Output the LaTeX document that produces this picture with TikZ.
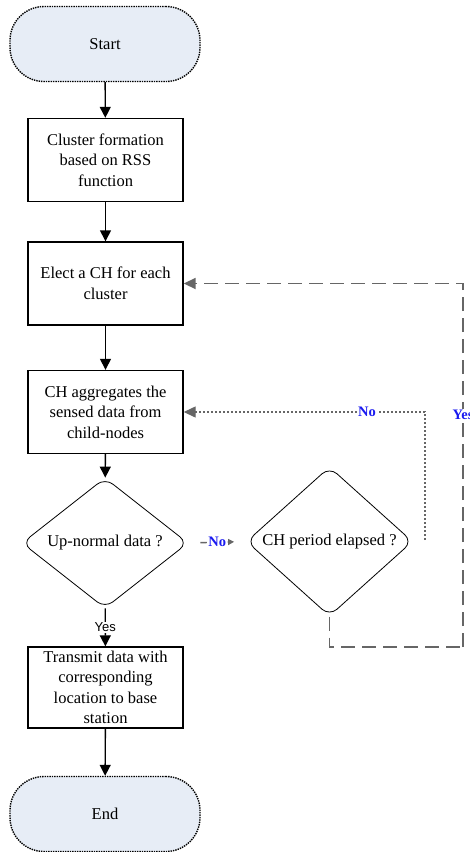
\documentclass[tikz,border=0pt]{standalone}
\usepackage{fontspec}
\setmainfont{Liberation Serif}
\newfontfamily\labelsans{Liberation Sans}
\usetikzlibrary{shapes.geometric,arrows.meta}

\definecolor{termfill}{HTML}{E7EDF6}
\definecolor{loopgray}{HTML}{666666}
\definecolor{nolabel}{HTML}{1A1AF0}

\tikzset{
    terminal/.style={draw, densely dotted, line width=1.4pt, fill=termfill,
        rounded corners=34pt, minimum width=190pt, minimum height=75pt,
        font=\fontsize{16.5}{20.5}\selectfont},
    process/.style={draw, line width=1.4pt, minimum width=155pt, minimum height=83pt,
        align=center, inner sep=2pt, font=\fontsize{16.5}{20.5}\selectfont},
    decision/.style={draw, diamond, line width=0.8pt, minimum width=166pt, minimum height=113pt,
        inner sep=0pt, rounded corners=10pt, align=center, font=\fontsize{16.5}{20.5}\selectfont},
    flow/.style={line width=1.4pt, -{Triangle[length=11pt,width=11pt]}},
    answer/.style={fill=white, inner sep=1pt, text=nolabel, font=\fontsize{14.5}{16}\selectfont\bfseries},
}

\begin{document}
\begin{tikzpicture}[x=1pt,y=-1pt]
    \useasboundingbox (0,0) rectangle (469,852);

    % Main column
    \node[terminal] (start) at (105,44) {Start};
    \node[process] (form) at (105.5,160) {Cluster formation\\based on RSS\\function};
    \node[process] (elect) at (105.5,283.5) {Elect a CH for each\\cluster};
    \node[process] (aggr) at (105.5,412) {CH aggregates the\\sensed data from\\child-nodes};
    \node[decision] (abn) at (105,543) {Up-normal data ?};
    \node[process, minimum height=81pt] (send) at (105.5,687.5) {Transmit data with\\corresponding\\location to base\\station};
    \node[terminal] (finish) at (105,814) {End};

    % Side decision
    \node[decision] (period) at (329.5,541.5) {CH period elapsed ?};

    % Corner points of the loops
    \coordinate (noturn) at (425,540);
    \coordinate (yesdown) at (329.5,647);
    \coordinate (yesturn) at (463,647);

    % Main flow
    \draw[flow] (start) -- (form);
    \draw[flow] (form) -- (elect);
    \draw[flow] (elect) -- (aggr);
    \draw[flow] (aggr) -- (abn);
    \draw[flow] (abn) -- node[fill=white, inner sep=1pt, font=\labelsans\fontsize{13}{15}\selectfont] {Yes} (send);
    \draw[flow] (send) -- (finish);

    % No branch
    \draw[loopgray, line width=1.4pt, dash pattern=on 7pt off 3pt, shorten <=12pt, shorten >=12pt,
        -{Triangle[length=6pt,width=6pt]}] (abn.east) -- node[answer] {No} (period.west);

    % Period not elapsed: back to aggregation
    \draw[loopgray, line width=1.3pt, dash pattern=on 2pt off 2pt, -{Triangle[length=12pt,width=11pt]}]
        (noturn) |- node[answer, pos=0.62] {No} (aggr.east);

    % Period elapsed: back to election
    \draw[loopgray, line width=1.8pt, dash pattern=on 14pt off 7pt] (period.south) -- (yesdown) -- (yesturn);
    \draw[loopgray, line width=1.8pt, dash pattern=on 14pt off 7pt, -{Triangle[length=12pt,width=11pt]}]
        (yesturn) |- node[answer, pos=0.32] {Yes} (elect.east);
\end{tikzpicture}
\end{document}
